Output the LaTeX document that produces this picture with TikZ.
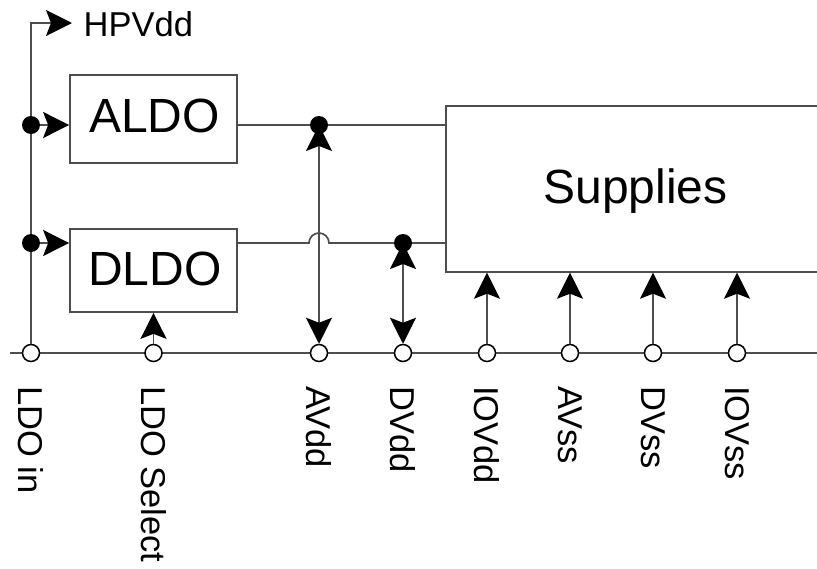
\documentclass[tikz,border=0pt]{standalone}
\usepackage{fontspec}
\setmainfont{Liberation Sans}
\usetikzlibrary{arrows.meta}
\definecolor{wirecol}{HTML}{4D4D4D}
\tikzset{
  x=1pt, y=1pt,
  wire/.style={draw=wirecol, line width=1.7pt},
  arr/.tip={Stealth[length=26pt,width=26pt,inset=5pt,color=black]},
  box/.style={draw=wirecol, line width=1.7pt, fill=white, inner sep=0pt},
  bigtext/.style={font=\fontsize{48}{58}\selectfont, inner sep=0pt, text=black},
  labtext/.style={font=\fontsize{34.5}{40}\selectfont, inner sep=0pt, text=black},
  vlab/.style={labtext, rotate=-90, anchor=west},
  fdot/.style={circle, fill=black, minimum size=18pt, inner sep=0pt},
  odot/.style={circle, draw=black, fill=white, line width=1.5pt, minimum size=17pt, inner sep=0pt},
}
\begin{document}
\begin{tikzpicture}
\useasboundingbox (0,0) rectangle (817,-568);
\clip (0,0) rectangle (817,-568);
\fill[white] (0,0) rectangle (817,-568);

% boxes
\node[box, minimum width=167pt, minimum height=88pt] (aldo) at (153.5,-119) {};
\node[box, minimum width=167pt, minimum height=83pt] (dldo) at (153.5,-270.5) {};
\node[box, minimum width=385pt, minimum height=166pt, anchor=north west] (sup) at (445,-105) {};
\node[bigtext, anchor=base] (aldot) at (154.5,-132) {ALDO};
\node[bigtext, anchor=base] (dldot) at (155,-285) {DLDO};
\node[bigtext, anchor=base] (supt) at (635.5,-203) {Supplies};

% point positions
\coordinate (ld1p) at (31,-125);
\coordinate (ld2p) at (31,-243);
\coordinate (adp) at (319,-125);
\coordinate (ddp) at (403,-243);
\coordinate (hopL) at (309,-243);
\coordinate (hptip) at (72,-23);
\coordinate (busL) at (10,-353);
\coordinate (busR) at (817,-353);

% bus
\draw[wire] (busL) -- (busR);

% bottom circles
\node[odot] (cin) at (31,-353) {};
\node[odot] (csel) at (153.5,-353) {};
\node[odot] (cav) at (319,-353) {};
\node[odot] (cdv) at (403,-353) {};
\node[odot] (ciov) at (487,-353) {};
\node[odot] (cavs) at (570,-353) {};
\node[odot] (cdvs) at (653,-353) {};
\node[odot] (cios) at (737,-353) {};

% trunk and HPVdd
\draw[wire, -{arr}] (cin) |- (hptip);
\node[labtext, anchor=base west] (hpv) at (83.5,-36) {HPVdd};

% inputs to LDOs
\draw[wire, -{arr}] (ld1p) -- (aldo.west |- ld1p);
\draw[wire, -{arr}] (ld2p) -- (dldo.west |- ld2p);
\draw[wire, -{arr}] (csel) -- (dldo.south -| csel);

% LDO outputs
\draw[wire] (aldo.east |- adp) -- (adp) -- (sup.west |- adp);
\draw[wire] (dldo.east |- ddp) -- (hopL) arc[start angle=180, end angle=0, radius=10pt] -- (ddp) -- (sup.west |- ddp);

% AVdd / DVdd double arrows
\draw[wire, {arr}-{arr}] (adp) -- (cav);
\draw[wire, {arr}-{arr}] (ddp) -- (cdv);

% supply inputs
\draw[wire, -{arr}] (ciov) -- (ciov |- sup.south);
\draw[wire, -{arr}] (cavs) -- (cavs |- sup.south);
\draw[wire, -{arr}] (cdvs) -- (cdvs |- sup.south);
\draw[wire, -{arr}] (cios) -- (cios |- sup.south);

% filled dots on top
\node[fdot] (ld1) at (ld1p) {};
\node[fdot] (ld2) at (ld2p) {};
\node[fdot] (ad) at (adp) {};
\node[fdot] (dd) at (ddp) {};

% labels
\node[vlab] (lin) at (31,-386) {LDO in};
\node[vlab] (lsel) at (153.5,-386) {LDO Select};
\node[vlab] (lav) at (319,-386) {AVdd};
\node[vlab] (ldv) at (403,-386) {DVdd};
\node[vlab] (liov) at (487,-386) {IOVdd};
\node[vlab] (lavs) at (570,-386) {AVss};
\node[vlab] (ldvs) at (653,-386) {DVss};
\node[vlab] (lios) at (737,-386) {IOVss};
\end{tikzpicture}
\end{document}
